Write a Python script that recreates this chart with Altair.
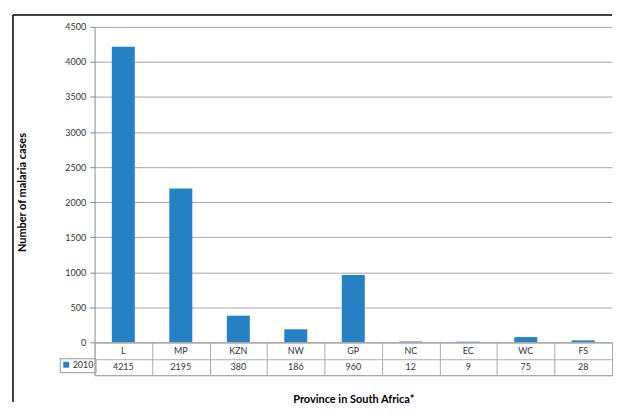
import altair as alt
import pandas as pd

provinces = ["L", "MP", "KZN", "NW", "GP", "NC", "EC", "WC", "FS"]
cases_2010 = [4215, 2195, 380, 186, 960, 12, 9, 75, 28]
series_name = "2010"
y_ticks = [0, 500, 1000, 1500, 2000, 2500, 3000, 3500, 4000, 4500]
row_order = ["label", "value"]

FONT = "Lato"
BLUE = "#2581c4"
W = 520
H = 317

df = pd.DataFrame({"province": provinces, "cases": cases_2010, "series": series_name})

table_df = pd.DataFrame(
    [{"province": p, "row": "label", "text": p} for p in provinces]
    + [{"province": p, "row": "value", "text": str(v)} for p, v in zip(provinces, cases_2010)]
)

bars = alt.Chart(df).mark_bar().encode(
    x=alt.X("province:N", sort=provinces, axis=None,
            scale=alt.Scale(paddingInner=0.6, paddingOuter=0.3)),
    y=alt.Y("cases:Q", scale=alt.Scale(domain=[0, 4500], nice=False),
            axis=alt.Axis(values=y_ticks, format="d", grid=True, gridColor="#a6a6a6",
                          domainColor="#888888", tickColor="#888888", tickSize=5,
                          labelFont=FONT, labelFontSize=9, labelColor="#333333",
                          labelPadding=4, title="Number of malaria cases",
                          titleFont=FONT, titleFontSize=11, titleFontWeight="bold",
                          titleColor="black", titlePadding=38, titleY=166)),
    color=alt.Color("series:N", scale=alt.Scale(range=[BLUE]),
                    legend=alt.Legend(title=None, orient="none", legendX=-35, legendY=333,
                                      strokeColor="#999999", padding=2, symbolType="square",
                                      symbolSize=36, symbolStrokeWidth=0,
                                      labelFont=FONT, labelFontSize=9, labelColor="#333333",
                                      labelOffset=2)),
)

frame_data = alt.Data(values=[{"k": 1}])
border_left = alt.Chart(frame_data).mark_rule(color="black", strokeWidth=1.5).encode(
    x=alt.value(-82), y=alt.value(-12), y2=alt.value(377))
border_top = alt.Chart(frame_data).mark_rule(color="black", strokeWidth=1.5).encode(
    x=alt.value(-82), x2=alt.value(W), y=alt.value(-12))

top = alt.layer(bars, border_left, border_top).properties(
    width=W, height=H, view=alt.ViewBackground(stroke="transparent"))

table = alt.Chart(table_df).mark_text(font=FONT, fontSize=9, color="#333333").encode(
    x=alt.X("province:N", sort=provinces,
            scale=alt.Scale(paddingInner=0, paddingOuter=0),
            axis=alt.Axis(grid=True, tickBand="extent", labels=False, ticks=False, domain=False,
                          gridColor="#aaaaaa", title="Province in South Africa*",
                          titleFont=FONT, titleFontSize=11, titleFontWeight="bold",
                          titleColor="black", titlePadding=18)),
    y=alt.Y("row:N", sort=row_order,
            scale=alt.Scale(paddingInner=0, paddingOuter=0),
            axis=alt.Axis(grid=True, tickBand="extent", labels=False, ticks=False, domain=False,
                          gridColor="#aaaaaa", title=None)),
    text="text:N",
).properties(width=W, height=33, view=alt.ViewBackground(stroke="#999999"))

chart = alt.vconcat(top, table, spacing=0, bounds="flush").resolve_scale(
    x="independent", color="independent").resolve_legend(color="independent").properties(
    padding={"left": 3, "top": 4, "right": 0, "bottom": 0},
    background="white",
)

chart.save("out.html", embed_options={"renderer": "svg", "actions": False})
